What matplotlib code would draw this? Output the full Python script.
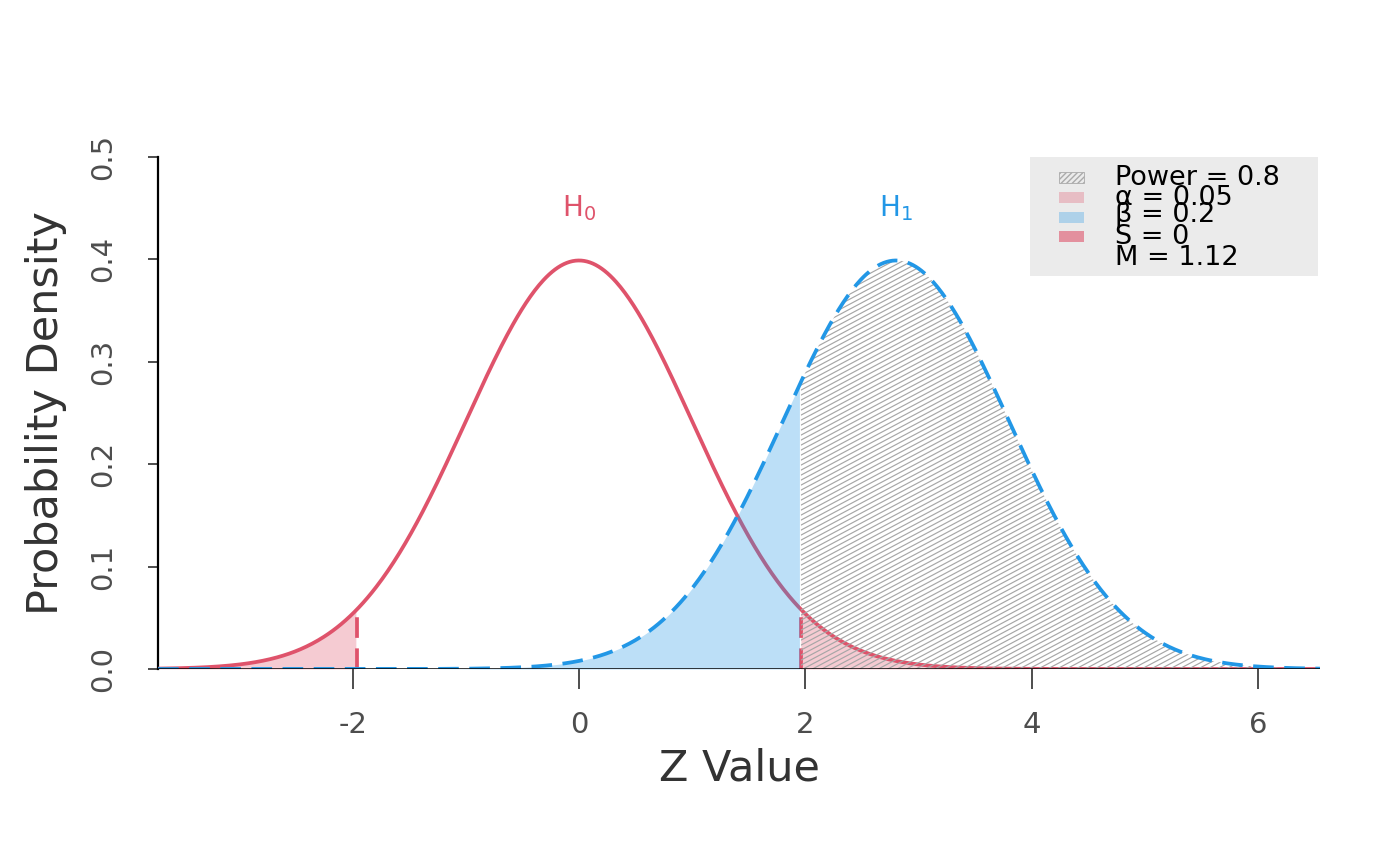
import matplotlib
matplotlib.use("Agg")
import matplotlib.pyplot as plt
import numpy as np
from matplotlib.patches import Rectangle
from matplotlib.collections import LineCollection

plt.rcParams['font.family'] = ['DejaVu Sans']
plt.rcParams['axes.unicode_minus'] = False

# test settings
h0_mean = 0.0
h1_mean = 2.8016
sd = 1.0
crit = 1.96
x_range = (-3.72, 6.55)
xticks = [-2, 0, 2, 4, 6]
yticks = [0.0, 0.1, 0.2, 0.3, 0.4, 0.5]
legend_labels = ["Power = 0.8", "α = 0.05", "β = 0.2", "S = 0", "M = 1.12"]

red = "#DF536B"
blue = "#2297E6"
grey_txt = "#4D4D4D"


def dens(x, m):
    return np.exp(-0.5 * ((x - m) / sd) ** 2) / (sd * np.sqrt(2 * np.pi))


x = np.linspace(x_range[0], x_range[1], 800)
y0 = dens(x, h0_mean)
y1 = dens(x, h1_mean)

fig = plt.figure(figsize=(14, 8.66), dpi=100)
ax = fig.add_axes([0.1129, 0.2275, 0.8300, 0.5912])
ax.set_xlim(*x_range)
ax.set_ylim(0, 0.5)

# alpha tails under H0
left = x <= -crit
right = x >= crit
ax.fill_between(x[left], 0, y0[left], color=red, alpha=0.3, lw=0)
ax.fill_between(x[right], 0, y0[right], color=red, alpha=0.3, lw=0)
ax.plot(x, y0, color=red, lw=2.7, solid_capstyle='butt', zorder=3)
for c in (-crit, crit):
    ax.plot([c, c], [0, dens(c, h0_mean)], color=red, lw=2.7,
            dashes=(5.5, 2.8), zorder=3)

# beta region under H1
beta = x <= crit
ax.fill_between(x[beta], 0, y1[beta], color=blue, alpha=0.3, lw=0, zorder=4)

# power region: hatched
pw = ax.fill_between(x[right], 0, y1[right], facecolor='none', lw=0, zorder=5)
fig.canvas.draw()
p0 = ax.transData.transform((0, 0))
p1 = ax.transData.transform((1, 1))
sx, sy = p1[0] - p0[0], p1[1] - p0[1]
slope = np.tan(np.radians(28)) * sx / sy
step = 5.0 / sy
segs = []
for b in np.arange(-0.8, 0.5, step):
    segs.append([(crit, b + slope * crit), (x_range[1], b + slope * x_range[1])])
lc = LineCollection(segs, colors="#A6A6A6", linewidths=0.85, zorder=5)
ax.add_collection(lc)
lc.set_clip_path(pw.get_paths()[0], ax.transData)

ax.plot(x, y1, color=blue, lw=2.7, dashes=(5.5, 2.8), zorder=6)

# baseline
ax.axhline(0, color='black', lw=1.8, zorder=7)

ax.text(h0_mean, 0.45, "H$_0$", color=red, fontsize=20, ha='center', va='center')
ax.text(h1_mean, 0.45, "H$_1$", color=blue, fontsize=20, ha='center', va='center')

# axes styling
for s in ['top', 'right', 'bottom']:
    ax.spines[s].set_visible(False)
ax.spines['left'].set_linewidth(1.6)
ax.spines['left'].set_bounds(0, 0.5)
ax.set_xticks(xticks)
ax.set_xticklabels([str(t) for t in xticks])
ax.set_yticks(yticks)
ax.set_yticklabels(["%.1f" % t for t in yticks], rotation=90, va='center')
ax.tick_params(axis='x', length=14.4, width=1.4, color=grey_txt, labelsize=21,
               labelcolor=grey_txt, pad=16)
ax.tick_params(axis='y', length=7.2, width=1.4, color=grey_txt, labelsize=21,
               labelcolor=grey_txt, pad=22)
ax.set_xlabel("Z Value", fontsize=31, color="#333333", labelpad=6)
ax.set_ylabel("Probability Density", fontsize=31, color="#333333", labelpad=16)

# legend box
ax.add_patch(Rectangle((0.7504, 0.7676), 0.2476, 0.2324, transform=ax.transAxes,
                       facecolor="#EBEBEB", edgecolor='none', zorder=8, clip_on=False))
pw_ = 25 / 1162
ph_ = 11 / 512
px_ = (1059 - 158) / 1162
patch_y = [0.959, 0.920, 0.881, 0.844]
ax.add_patch(Rectangle((px_, patch_y[0] - ph_ / 2), pw_, ph_, transform=ax.transAxes,
                       facecolor='none', edgecolor="#AAAAAA", hatch='//////', lw=0.6,
                       zorder=9, clip_on=False))
for yy, fc, al in zip(patch_y[1:], [red, blue, red], [0.3, 0.3, 0.6]):
    ax.add_patch(Rectangle((px_, yy - ph_ / 2), pw_, ph_, transform=ax.transAxes,
                           facecolor=fc, alpha=al, edgecolor='none', zorder=9,
                           clip_on=False))
text_y = [0.959, 0.920, 0.887, 0.844, 0.803]
for yy, lab in zip(text_y, legend_labels):
    ax.text((1115 - 158) / 1162, yy, lab, transform=ax.transAxes, fontsize=19.5,
            ha='left', va='center', color='black', zorder=10)

fig.savefig("out.png", dpi=100)
